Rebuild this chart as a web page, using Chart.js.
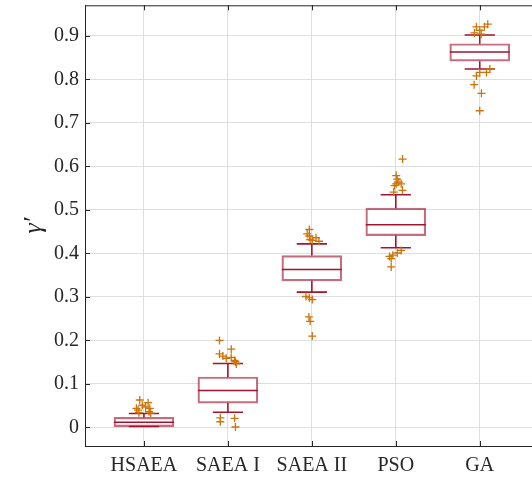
<!DOCTYPE html>
<html>
<head>
<meta charset="utf-8">
<script src="https://cdn.jsdelivr.net/npm/chart.js@4"></script>
<style>
    html, body { margin: 0; padding: 0; background: #fff; overflow: hidden; }
    #boxChart { display: block; }
</style>
</head>
<body>
<canvas id="boxChart" width="544" height="480"></canvas>
<script>
'use strict';

/* ── Data ───────────────────────────────────────────── */
const CATEGORIES   = ['HSAEA', 'SAEA I', 'SAEA II', 'PSO', 'GA'];
const Q1           = [0.002, 0.056, 0.337, 0.441, 0.842];
const MEDIAN       = [0.012, 0.085, 0.363, 0.466, 0.863];
const Q3           = [0.023, 0.116, 0.395, 0.504, 0.882];
const WHISKER_LOW  = [0.002, 0.035, 0.311, 0.413, 0.824];
const WHISKER_HIGH = [0.032, 0.147, 0.422, 0.535, 0.902];
const Y_TICKS      = [0, 0.1, 0.2, 0.3, 0.4, 0.5, 0.6, 0.7, 0.8, 0.9];

// outliers per group: [jitter offset, value]
const OUTLIERS = [
    [[-0.05, 0.063], [-0.02, 0.051], [0.02, 0.047], [0.07, 0.044], [-0.07, 0.040],
     [0.06, 0.036], [0.08, 0.033], [0.05, 0.057], [-0.09, 0.044], [-0.06, 0.034]],
    [[-0.10, 0.200], [0.04, 0.180], [-0.10, 0.169], [-0.06, 0.164], [-0.02, 0.159],
     [0.04, 0.161], [0.08, 0.154], [0.10, 0.146], [0.09, 0.151],
     [-0.09, 0.022], [-0.09, 0.013], [0.08, 0.021], [0.09, 0.001]],
    [[-0.03, 0.455], [-0.055, 0.445], [-0.03, 0.440], [0.05, 0.436], [0.005, 0.430],
     [0.085, 0.428], [-0.02, 0.432],
     [-0.07, 0.301], [-0.03, 0.298], [0.005, 0.294], [-0.035, 0.254], [-0.02, 0.244], [0.005, 0.210]],
    [[0.08, 0.617], [0.005, 0.579], [0.017, 0.571], [0.036, 0.564], [0.005, 0.560],
     [-0.015, 0.556], [0.064, 0.560], [0.08, 0.545], [-0.024, 0.541],
     [0.064, 0.407], [0.017, 0.401], [-0.036, 0.396], [-0.075, 0.393], [-0.055, 0.388], [-0.055, 0.369]],
    [[0.095, 0.927], [0.055, 0.921], [-0.04, 0.921], [0.0, 0.913], [-0.063, 0.907], [0.017, 0.904],
     [0.12, 0.824], [0.08, 0.816], [0.0, 0.816], [-0.04, 0.808], [-0.067, 0.788], [0.02, 0.768], [0.0, 0.728]],
];

/* ── Style ──────────────────────────────────────────── */
const BOX_HALF = 0.357;   // half box width in category units
const CAP_HALF = 0.18;    // half whisker-cap width
const RED      = '#A2142F';
const ORANGE   = '#CC7408';
const INK      = '#262626';
const FONT     = "'Liberation Serif', 'DejaVu Serif', serif";

/* ── Segment builders ───────────────────────────────── */
function medianLines() {
    const pts = [];
    CATEGORIES.forEach((_, i) => {
        const c = i + 1;
        pts.push({ x: c - BOX_HALF, y: MEDIAN[i] }, { x: c + BOX_HALF, y: MEDIAN[i] }, { x: c, y: null });
    });
    return pts;
}

function whiskerLines() {
    const pts = [];
    CATEGORIES.forEach((_, i) => {
        const c = i + 1;
        pts.push({ x: c, y: Q3[i] }, { x: c, y: WHISKER_HIGH[i] }, { x: c, y: null });
        pts.push({ x: c, y: Q1[i] }, { x: c, y: WHISKER_LOW[i] }, { x: c, y: null });
        pts.push({ x: c - CAP_HALF, y: WHISKER_HIGH[i] }, { x: c + CAP_HALF, y: WHISKER_HIGH[i] }, { x: c, y: null });
        pts.push({ x: c - CAP_HALF, y: WHISKER_LOW[i] }, { x: c + CAP_HALF, y: WHISKER_LOW[i] }, { x: c, y: null });
    });
    return pts;
}

function outlierPoints() {
    const pts = [];
    OUTLIERS.forEach((group, i) => group.forEach(([dx, v]) => pts.push({ x: i + 1 + dx, y: v })));
    return pts;
}

/* ── Frame: top spine + inward ticks ────────────────── */
const framePlugin = {
    id: 'frame',
    afterDraw(chart) {
        const { ctx, chartArea: { left, right, top, bottom }, scales: { x, y } } = chart;
        ctx.save();
        ctx.strokeStyle = INK;
        ctx.lineWidth = 1;
        ctx.beginPath();
        ctx.moveTo(left, top + 0.5);
        ctx.lineTo(right, top + 0.5);
        y.ticks.forEach(t => {
            const py = Math.round(y.getPixelForValue(t.value)) + 0.5;
            ctx.moveTo(left, py);
            ctx.lineTo(left + 5, py);
        });
        x.ticks.forEach(t => {
            const px = Math.round(x.getPixelForValue(t.value)) + 0.5;
            ctx.moveTo(px, bottom);
            ctx.lineTo(px, bottom - 5);
            ctx.moveTo(px, top);
            ctx.lineTo(px, top + 5);
        });
        ctx.stroke();
        ctx.restore();
    }
};

// fixed axis box, no extra room for overhanging tick labels
function fixAxis(size) {
    return s => {
        if (s.isHorizontal()) s.height = size; else s.width = size;
        s.paddingTop = s.paddingBottom = s.paddingLeft = s.paddingRight = 0;
    };
}

/* ── Chart ──────────────────────────────────────────── */
new Chart(document.getElementById('boxChart'), {
    type: 'scatter',
    data: {
        datasets: [
            {
                label: 'outliers',
                data: outlierPoints(),
                pointStyle: 'cross',
                pointRadius: 4,
                pointBorderWidth: 1.3,
                borderColor: ORANGE,
                backgroundColor: ORANGE,
                order: 0,
            },
            {
                label: 'median',
                data: medianLines(),
                showLine: true,
                spanGaps: false,
                pointRadius: 0,
                borderColor: RED,
                borderWidth: 1.5,
                order: 1,
            },
            {
                label: 'whiskers',
                data: whiskerLines(),
                showLine: true,
                spanGaps: false,
                pointRadius: 0,
                borderColor: RED,
                borderWidth: 1.6,
                order: 2,
            },
            {
                type: 'bar',
                label: 'box',
                data: CATEGORIES.map((_, i) => ({ x: i + 1, y: [Q1[i], Q3[i]] })),
                backgroundColor: '#ffffff',
                borderColor: 'rgba(162,20,47,0.62)',
                borderWidth: 2.2,
                borderSkipped: false,
                barThickness: 60,
                grouped: false,
                order: 3,
            },
        ]
    },
    options: {
        responsive: false,
        animation: false,
        layout: { padding: { left: 0, top: 3, right: 1, bottom: 0 } },
        plugins: { legend: { display: false }, tooltip: { enabled: false } },
        scales: {
            x: {
                type: 'linear',
                min: 0.298, max: 5.702,
                offset: false,
                afterBuildTicks: s => { s.ticks = CATEGORIES.map((_, i) => ({ value: i + 1 })); },
                afterFit: fixAxis(34),
                grid: { color: '#dedede', lineWidth: 1, drawTicks: false, offset: false },
                border: { color: INK, width: 1 },
                ticks: {
                    color: INK, padding: 8,
                    font: { family: FONT, size: 20 },
                    callback: v => CATEGORIES[v - 1] ?? '',
                },
            },
            y: {
                min: -0.0427, max: 0.9704,
                afterBuildTicks: s => { s.ticks = Y_TICKS.map(v => ({ value: v })); },
                afterFit: fixAxis(85),
                grid: { color: '#dedede', lineWidth: 1, drawTicks: false },
                border: { color: INK, width: 1 },
                ticks: {
                    color: INK, padding: 6,
                    font: { family: FONT, size: 20 },
                    callback: v => v === 0 ? '0' : v.toFixed(1),
                },
                title: {
                    display: true, text: 'γ′', color: INK,
                    font: { family: FONT, size: 26, style: 'italic' },
                    padding: { top: 19, bottom: 0 },
                },
            },
        },
    },
    plugins: [framePlugin],
});
</script>
</body>
</html>
